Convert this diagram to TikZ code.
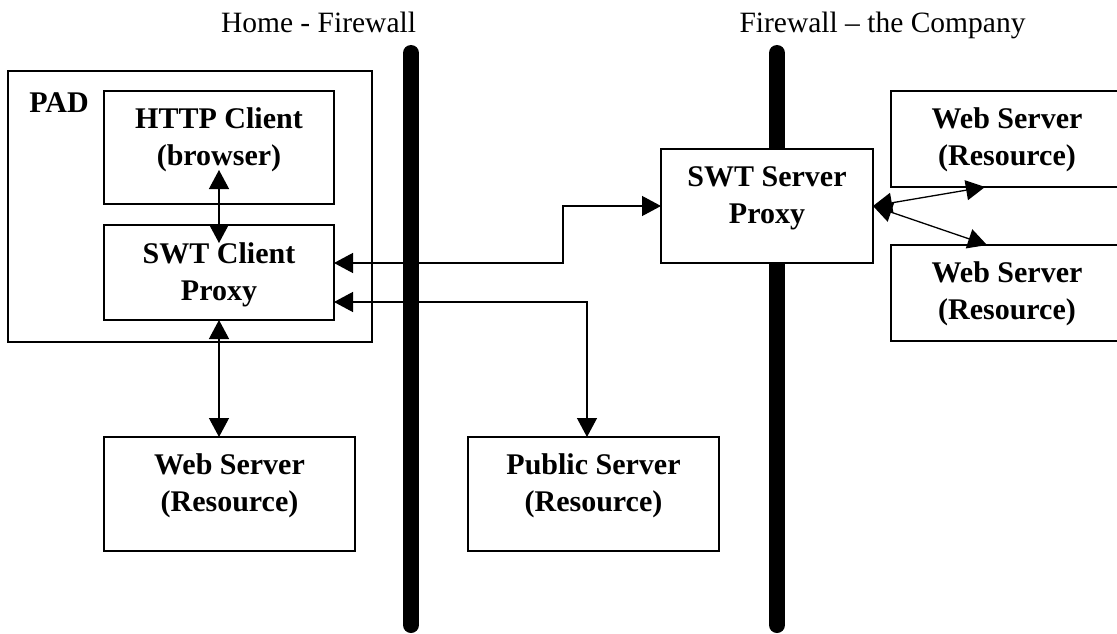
\documentclass[tikz,border=0pt]{standalone}
\usepackage{fontspec}
\setmainfont{Liberation Serif}
\usetikzlibrary{arrows.meta}
\begin{document}
\begin{tikzpicture}[x=1pt,y=-1pt,
  box/.style={draw, line width=1.3pt, inner sep=0pt, outer sep=0pt, anchor=north west},
  txt/.style={font=\fontsize{30}{37}\selectfont\bfseries, align=center, inner sep=0pt, outer sep=0pt, anchor=north},
  ttl/.style={font=\fontsize{29.5}{35}\selectfont, inner sep=0pt, anchor=base},
  wall/.style={line width=16pt, line cap=round},
  conn/.style={line width=1.3pt, {Triangle[length=19pt,width=20pt]}-{Triangle[length=19pt,width=20pt]}}]
\useasboundingbox (0,0) rectangle (1117,634);
% firewalls
\coordinate (fw1t) at (411,53);
\coordinate (fw1b) at (411,625);
\coordinate (fw2t) at (777,53);
\coordinate (fw2b) at (777,625);
\draw[wall] (fw1t) -- (fw1b);
\draw[wall] (fw2t) -- (fw2b);
\node[ttl] (t1) at (318.5,33) {Home - Firewall};
\node[ttl] (t2) at (882.5,33) {Firewall – the Company};
% boxes
\node[box, minimum width=364pt, minimum height=271pt] (pad) at (8,71) {};
\node[box, minimum width=230pt, minimum height=113pt] (http) at (104,91) {};
\node[box, minimum width=230pt, minimum height=95pt] (swtc) at (104,225) {};
\node[box, fill=white, minimum width=212pt, minimum height=114pt] (swts) at (661,149) {};
\node[box, minimum width=251pt, minimum height=114pt] (webl) at (104,437) {};
\node[box, minimum width=251pt, minimum height=114pt] (pub) at (468,437) {};
\node[box, minimum width=232pt, minimum height=96pt] (wr1) at (891,91) {};
\node[box, minimum width=232pt, minimum height=96pt] (wr2) at (891,245) {};
% texts
\node[txt] (padT) at ([xshift=51pt,yshift=-22pt]pad.north west) {PAD};
\node[txt] (httpT) at ([yshift=-16.7pt]http.north) {HTTP Client\\(browser)};
\node[txt] (swtcT) at ([yshift=-17.5pt]swtc.north) {SWT Client\\Proxy};
\node[txt] (swtsT) at ([yshift=-17.5pt]swts.north) {SWT Server\\Proxy};
\node[txt] (weblT) at ([yshift=-17pt]webl.north) {Web Server\\(Resource)};
\node[txt] (pubT) at ([yshift=-17pt]pub.north) {Public Server\\(Resource)};
\node[txt] (wr1T) at ([yshift=-17pt]wr1.north) {Web Server\\(Resource)};
\node[txt] (wr2T) at ([yshift=-17pt]wr2.north) {Web Server\\(Resource)};
% connectors
\draw[conn] ([yshift=34pt]http.south) -- ([yshift=-18pt]swtc.north);
\draw[conn] ([yshift=9.5pt]swtc.east) -| ([xshift=-98pt]swts.west) -- (swts.west);
\draw[conn] ([yshift=-29.5pt]swtc.east) -| ([xshift=-6.5pt]pub.north);
\draw[conn] (swtc.south) -- (swtc.south |- webl.north);
\draw[conn] (swts.east) -- ([xshift=94pt]wr1.south west);
\draw[conn] (swts.east) -- ([xshift=96pt]wr2.north west);
\end{tikzpicture}
\end{document}
